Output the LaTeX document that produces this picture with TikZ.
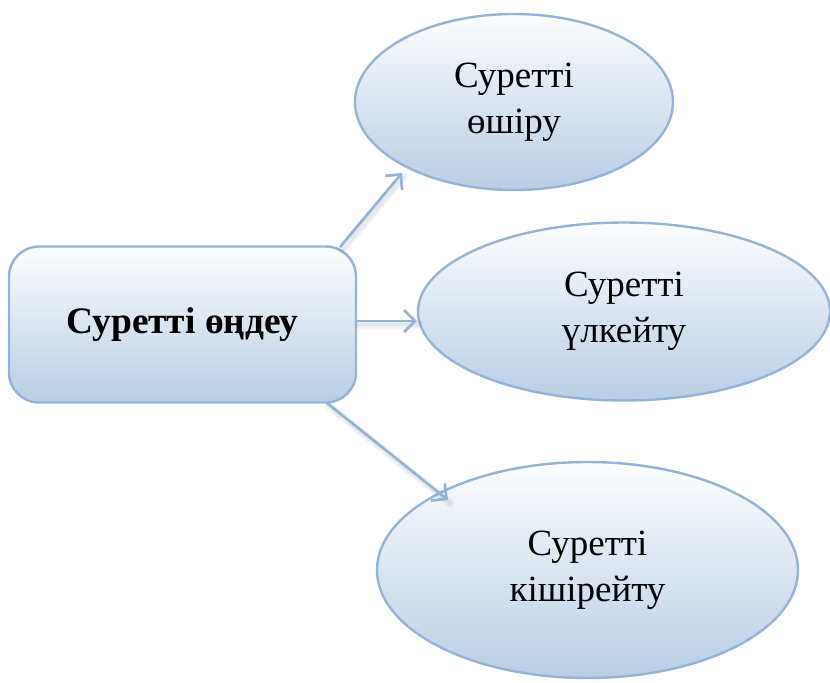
\documentclass[tikz,border=0pt]{standalone}
\usepackage{fontspec}
\setmainfont{Liberation Serif}
\usetikzlibrary{shapes.geometric,arrows.meta}
\definecolor{edgeblue}{RGB}{149,179,215}
\definecolor{fillblue}{RGB}{185,205,229}
\definecolor{filltop}{RGB}{252,253,254}
\definecolor{shadowgrey}{RGB}{120,130,150}
\tikzset{
  shapebox/.style={draw=edgeblue, line width=1.2pt, top color=filltop, bottom color=fillblue,
    inner sep=0pt, align=center, font=\fontsize{18.5}{23}\selectfont},
  mainbox/.style={shapebox, rectangle, rounded corners=15pt,
    font=\fontsize{18.7}{23}\selectfont\bfseries},
  oval/.style={shapebox, ellipse},
  link/.style={draw=edgeblue, line width=1.35pt, -{Straight Barb[length=5.5pt,width=11pt]}},
  linkshadow/.style={draw=shadowgrey, opacity=0.05, line cap=round},
}
\begin{document}
\begin{tikzpicture}[x=0.5pt, y=-0.5pt]
  \useasboundingbox (0,0) rectangle (830,682);

  % central box and the three operations
  \node[mainbox, minimum width=173.5pt, minimum height=78pt] (m) at (182.5,324.5) {Суреттi өңдеу};
  \node[oval, minimum width=159pt, minimum height=88pt] (e1) at (514,102) {Суреттi\\өшiру};
  \node[oval, minimum width=206pt, minimum height=89pt] (e2) at (624,311.5) {Суреттi\\үлкейту};
  \node[oval, minimum width=210.5pt, minimum height=108pt] (e3) at (587.5,570) {Суреттi\\кiшiрейту};

  % connector end points
  \coordinate (s1) at (340,247);
  \coordinate (t1) at (402,173);
  \coordinate (s2) at (357,321);
  \coordinate (t2) at (417,321);
  \coordinate (s3) at (327,403);
  \coordinate (t3) at (448,500);

  % soft, blurred shadows under the connectors
  \foreach \a/\b in {s1/t1, s2/t2, s3/t3}
    \foreach \w in {1.5,2.5,3.5,4.5}
      \draw[linkshadow, line width=\w pt] ([shift={(2,3)}]\a) -- ([shift={(2,3)}]\b);

  \draw[link] (s1) -- (t1);
  \draw[link] (s2) -- (t2);
  \draw[link] (s3) -- (t3);
\end{tikzpicture}
\end{document}
